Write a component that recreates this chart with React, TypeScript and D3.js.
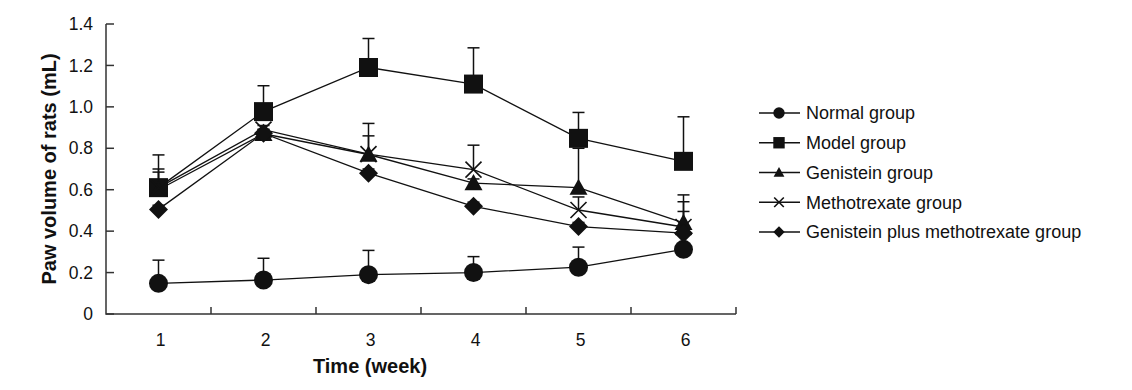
import * as d3 from "d3";

const weeks = [1, 2, 3, 4, 5, 6];
const seriesNames = [
  "Normal group",
  "Model group",
  "Genistein group",
  "Methotrexate group",
  "Genistein plus methotrexate group",
];
const normal = [0.148, 0.164, 0.19, 0.2, 0.226, 0.312];
const normalErr = [0.112, 0.105, 0.117, 0.077, 0.097, 0.02];
const model = [0.61, 0.977, 1.19, 1.11, 0.848, 0.737];
const modelErr = [0.158, 0.125, 0.14, 0.175, 0.125, 0.215];
const genistein = [0.6, 0.87, 0.77, 0.632, 0.61, 0.44];
const genisteinErr = [0.1, 0.02, 0.09, 0.02, 0.19, 0.135];
const methotrexate = [0.61, 0.89, 0.772, 0.697, 0.502, 0.42];
const methotrexateErr = [0.075, 0.02, 0.148, 0.118, 0.063, 0.122];
const combo = [0.505, 0.872, 0.68, 0.52, 0.422, 0.39];
const comboErr = [0.02, 0.02, 0.02, 0.02, 0.02, 0.105];
const yTicks = [0, 0.2, 0.4, 0.6, 0.8, 1.0, 1.2, 1.4];

const series = [
  { name: seriesNames[0], values: normal, err: normalErr, shape: "circle" },
  { name: seriesNames[1], values: model, err: modelErr, shape: "square" },
  { name: seriesNames[2], values: genistein, err: genisteinErr, shape: "triangle" },
  { name: seriesNames[3], values: methotrexate, err: methotrexateErr, shape: "cross" },
  { name: seriesNames[4], values: combo, err: comboErr, shape: "diamond" },
];

const ink = "#111";
const font = "'Liberation Sans', Arial, sans-serif";

function Marker({ shape, x, y, size = 1 }) {
  if (shape === "circle") return <circle cx={x} cy={y} r={9.5 * size} fill={ink} />;
  if (shape === "square") {
    const s = 9.5 * size;
    return <rect x={x - s} y={y - s} width={2 * s} height={2 * s} fill={ink} />;
  }
  if (shape === "triangle") {
    const s = 9 * size;
    return (
      <path d={`M${x},${y - s}L${x + s},${y + s * 0.8}L${x - s},${y + s * 0.8}Z`} fill={ink} />
    );
  }
  if (shape === "diamond") {
    const s = 9.5 * size;
    return <path d={`M${x},${y - s}L${x + s},${y}L${x},${y + s}L${x - s},${y}Z`} fill={ink} />;
  }
  const s = 8 * size;
  return (
    <path
      d={`M${x - s},${y - s}L${x + s},${y + s}M${x + s},${y - s}L${x - s},${y + s}`}
      stroke={ink}
      strokeWidth={1.6}
    />
  );
}

export default function App() {
  const x = d3.scaleBand<number>().domain(weeks).range([106, 736]);
  const y = d3.scaleLinear().domain([0, 1.4]).range([314, 24]);
  const cx = (w: number) => x(w)! + x.bandwidth() / 2;
  const line = d3
    .line<number>()
    .x((_, i) => cx(weeks[i]))
    .y((d) => y(d));

  const legendY = d3.scalePoint<string>().domain(seriesNames).range([113, 232]);

  return (
    <svg
      width={1132}
      height={390}
      style={{ position: "absolute", left: 0, top: 0, background: "#fff" }}
      fontFamily={font}
    >
      {/* axes */}
      <g stroke="#333" strokeWidth={1.5} fill="none">
        <path d={`M106,${y(1.4)}V${y(0)}H736`} />
        {yTicks.map((t) => (
          <line key={t} x1={106} x2={114} y1={y(t)} y2={y(t)} />
        ))}
        {weeks.map((w) => (
          <line key={w} x1={x(w)! + x.bandwidth()} x2={x(w)! + x.bandwidth()} y1={314} y2={307} />
        ))}
      </g>
      <g fontSize={17.5} fill="#111" textAnchor="end">
        {yTicks.map((t) => (
          <text key={t} x={93} y={y(t)} dy="0.35em">
            {t === 0 ? "0" : t.toFixed(1)}
          </text>
        ))}
      </g>
      <g fontSize={17.5} fill="#111" textAnchor="middle">
        {weeks.map((w) => (
          <text key={w} x={cx(w) + 2} y={346}>
            {w}
          </text>
        ))}
      </g>
      <text x={370} y={373} fontSize={20} fontWeight="bold" textAnchor="middle" fill="#111">
        Time (week)
      </text>
      <text
        transform={`translate(56,${y(0.7)}) rotate(-90)`}
        fontSize={20}
        fontWeight="bold"
        textAnchor="middle"
        fill="#111"
      >
        Paw volume of rats (mL)
      </text>

      {/* lines */}
      {series.map((s) => (
        <path key={s.name} d={line(s.values)!} fill="none" stroke={ink} strokeWidth={1.3} />
      ))}
      {/* error bars */}
      {series.map((s) => (
        <g key={s.name} stroke={ink} strokeWidth={1.5}>
          {s.values.map((v, i) => {
            const px = cx(weeks[i]);
            const top = y(v + s.err[i]);
            return (
              <g key={i}>
                <line x1={px} x2={px} y1={y(v)} y2={top} />
                <line x1={px - 6} x2={px + 6} y1={top} y2={top} />
              </g>
            );
          })}
        </g>
      ))}
      {/* markers */}
      {series.map((s) => (
        <g key={s.name}>
          {s.values.map((v, i) => (
            <Marker key={i} shape={s.shape} x={cx(weeks[i])} y={y(v)} />
          ))}
        </g>
      ))}

      {/* legend */}
      {series.map((s) => (
        <g key={s.name}>
          <line x1={759} x2={800} y1={legendY(s.name)} y2={legendY(s.name)} stroke={ink} strokeWidth={1.3} />
          <Marker shape={s.shape} x={779} y={legendY(s.name)} size={0.6} />
          <text x={806} y={legendY(s.name)} dy="0.35em" fontSize={18} fill="#111">
            {s.name}
          </text>
        </g>
      ))}
    </svg>
  );
}
